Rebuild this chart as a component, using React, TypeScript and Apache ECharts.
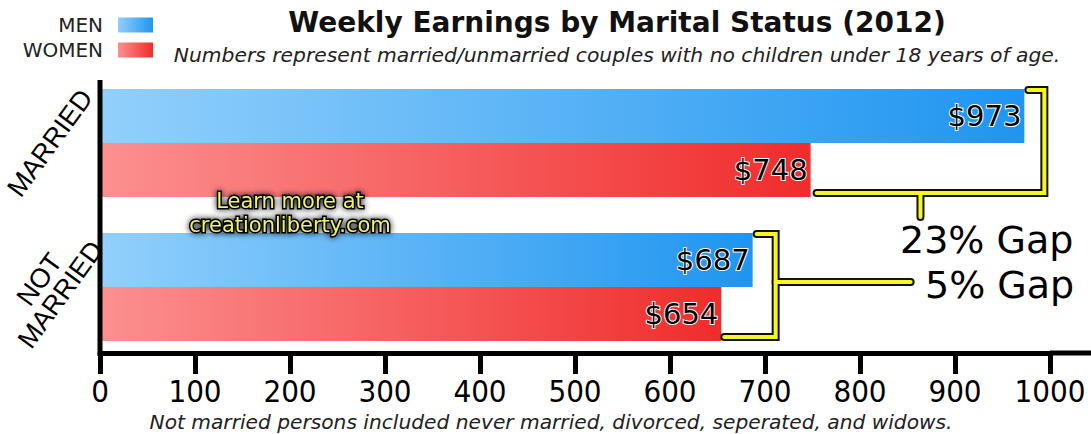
import React, { useEffect, useRef } from "react";
import * as echarts from "echarts";

const categories = ["MARRIED", "NOT\nMARRIED"];
const seriesNames = ["MEN", "WOMEN"];
const menValues = [973, 687];
const womenValues = [748, 654];
const xMin = 0;
const xMax = 1000;
const xInterval = 100;

const titleText = "Weekly Earnings by Marital Status (2012)";
const subtitleText =
  "Numbers represent married/unmarried couples with no children under 18 years of age.";
const footerText =
  "Not married persons included never married, divorced, seperated, and widows.";
const watermark = ["Learn more at", "creationliberty.com"];

const menGrad = () =>
  new echarts.graphic.LinearGradient(0, 0, 1, 0, [
    { offset: 0, color: "#92d0fc" },
    { offset: 1, color: "#1f95f0" },
  ]);
const womenGrad = () =>
  new echarts.graphic.LinearGradient(0, 0, 1, 0, [
    { offset: 0, color: "#fc9090" },
    { offset: 1, color: "#f02c2c" },
  ]);

export default function App() {
  const ref = useRef<HTMLDivElement>(null);
  useEffect(() => {
    const chart = echarts.init(ref.current!, null, { renderer: "svg" });
    const labelStyle = {
      show: true,
      position: "insideRight",
      distance: 3,
      formatter: (p: any) => "$" + p.value,
      fontFamily: "DejaVu Sans",
      fontSize: 29,
      color: "#000",
      textBorderColor: "#fff",
      textBorderWidth: 2,
    };
    const legendBase = {
      right: 938,
      orient: "horizontal",
      align: "right",
      icon: "rect",
      itemWidth: 35,
      itemHeight: 15,
      padding: 0,
      selectedMode: false,
      textStyle: {
        fontFamily: "DejaVu Sans",
        fontSize: 20,
        color: "#222",
        padding: [0, 10, 0, 0],
      },
    };
    const option: any = {
      animation: false,
      backgroundColor: "#fff",
      legend: [
        { ...legendBase, top: 15, data: [seriesNames[0]] },
        { ...legendBase, top: 40, data: [seriesNames[1]] },
      ],
      grid: {
        left: 100,
        right: 41,
        top: 71,
        height: 288,
        containLabel: false,
        outerBoundsMode: "none",
      },
      xAxis: {
        type: "value",
        min: xMin,
        max: xMax,
        interval: xInterval,
        offset: -6,
        splitLine: { show: false },
        axisLine: { show: true, lineStyle: { color: "#000", width: 5 } },
        axisTick: { show: true, length: 21, lineStyle: { color: "#000", width: 5 } },
        axisLabel: {
          margin: 22,
          formatter: (v: number) => String(v),
          fontFamily: "DejaVu Sans Condensed",
          fontSize: 31,
          color: "#000",
        },
      },
      yAxis: {
        type: "category",
        data: categories,
        inverse: true,
        axisLine: { show: false },
        axisTick: { show: false },
        axisLabel: {
          margin: 50,
          rotate: 54,
          align: "center",
          verticalAlign: "middle",
          fontFamily: "Liberation Sans",
          fontSize: 27,
          lineHeight: 26,
          color: "#000",
        },
      },
      series: [
        {
          name: seriesNames[0],
          type: "bar",
          data: menValues,
          barWidth: 54,
          barGap: "0%",
          itemStyle: { color: menGrad() },
          label: labelStyle,
        },
        {
          name: seriesNames[1],
          type: "bar",
          data: womenValues,
          barWidth: 54,
          barGap: "0%",
          itemStyle: { color: womenGrad() },
          label: labelStyle,
        },
      ],
    };
    chart.setOption(option);

    const px = (v: number, c: number) =>
      chart.convertToPixel({ gridIndex: 0 }, [v, c]) as number[];
    const [x0, cM] = px(0, 0);
    const [, cN] = px(0, 1);
    const xEnd = px(xMax, 0)[0];
    const axisY = cN + 66;
    const xm973 = px(menValues[0], 0)[0];
    const xw748 = px(womenValues[0], 0)[0];
    const xm687 = px(menValues[1], 1)[0];
    const xw654 = px(womenValues[1], 1)[0];
    const gapM = Math.round(((menValues[0] - womenValues[0]) / menValues[0]) * 100);
    const gapN = Math.round(((menValues[1] - womenValues[1]) / menValues[1]) * 100);

    const xR1 = xm973 + 20;
    const yT1 = cM - 53;
    const yB1 = cM + 50;
    const stem1 = xw748 + 0.47 * (xR1 - xw748);
    const xR2 = xm687 + 23;
    const yT2 = cN - 53;
    const yB2 = cN + 50;
    const yMid2 = cN - 5;

    const brackets = [
      [
        [xm973 + 4, yT1],
        [xR1, yT1],
        [xR1, yB1],
        [xw748 + 6, yB1],
      ],
      [
        [stem1, yB1],
        [stem1, yB1 + 24],
      ],
      [
        [xm687 + 4, yT2],
        [xR2, yT2],
        [xR2, yB2],
        [xw654 + 3, yB2],
      ],
      [
        [xR2, yMid2],
        [xR2 + 135, yMid2],
      ],
    ];
    const black = brackets.map((pts) => ({
      type: "polyline",
      shape: { points: pts },
      style: { stroke: "#111", lineWidth: 8, fill: null, lineJoin: "miter", lineCap: "round" },
      z: 10,
    }));
    const yellow = brackets.map((pts) => ({
      type: "polyline",
      shape: { points: pts },
      style: { stroke: "#f6f620", lineWidth: 4, fill: null, lineJoin: "miter", lineCap: "round" },
      z: 11,
    }));

    const graphic: any[] = [
      {
        type: "line",
        shape: { x1: x0, y1: 80, x2: x0, y2: axisY + 3 },
        style: { stroke: "#000", lineWidth: 5 },
        z: 12,
      },
      {
        type: "line",
        shape: { x1: xEnd, y1: axisY, x2: 1091, y2: axisY },
        style: { stroke: "#000", lineWidth: 5 },
        z: 12,
      },
      ...black,
      ...yellow,
      {
        type: "text",
        x: 900,
        y: 240,
        style: {
          text: gapM + "% Gap",
          fontFamily: "DejaVu Sans",
          fontSize: 38,
          fill: "#000",
          textAlign: "left",
          textVerticalAlign: "middle",
        },
        z: 12,
      },
      {
        type: "text",
        x: 925,
        y: 285,
        style: {
          text: gapN + "% Gap",
          fontFamily: "DejaVu Sans",
          fontSize: 38,
          fill: "#000",
          textAlign: "left",
          textVerticalAlign: "middle",
        },
        z: 12,
      },
      {
        type: "text",
        x: 617,
        y: 22,
        style: {
          text: titleText,
          fontFamily: "DejaVu Sans",
          fontWeight: "bold",
          fontSize: 28,
          fill: "#111",
          textAlign: "center",
          textVerticalAlign: "middle",
        },
      },
      {
        type: "text",
        x: 617,
        y: 55,
        style: {
          text: subtitleText,
          fontFamily: "DejaVu Sans",
          fontStyle: "italic",
          fontSize: 20.3,
          fill: "#222",
          textAlign: "center",
          textVerticalAlign: "middle",
        },
      },
      {
        type: "text",
        x: 551,
        y: 422,
        style: {
          text: footerText,
          fontFamily: "DejaVu Sans",
          fontStyle: "italic",
          fontSize: 20.2,
          fill: "#222",
          textAlign: "center",
          textVerticalAlign: "middle",
        },
      },
      ...watermark.map((t, i) => ({
        type: "text",
        x: 290,
        y: 201 + i * 24,
        style: {
          text: t,
          fontFamily: "DejaVu Sans",
          fontSize: 21,
          fill: "#eef26a",
          stroke: "#000",
          lineWidth: 3,
          textAlign: "center",
          textVerticalAlign: "middle",
          textShadowColor: "rgba(0,0,0,0.9)",
          textShadowBlur: 6,
        },
        z: 13,
      })),
    ];
    chart.setOption({ graphic });
    return () => chart.dispose();
  }, []);
  return (
    <div
      ref={ref}
      style={{ position: "absolute", left: 0, top: 0, width: 1091, height: 434 }}
    />
  );
}
